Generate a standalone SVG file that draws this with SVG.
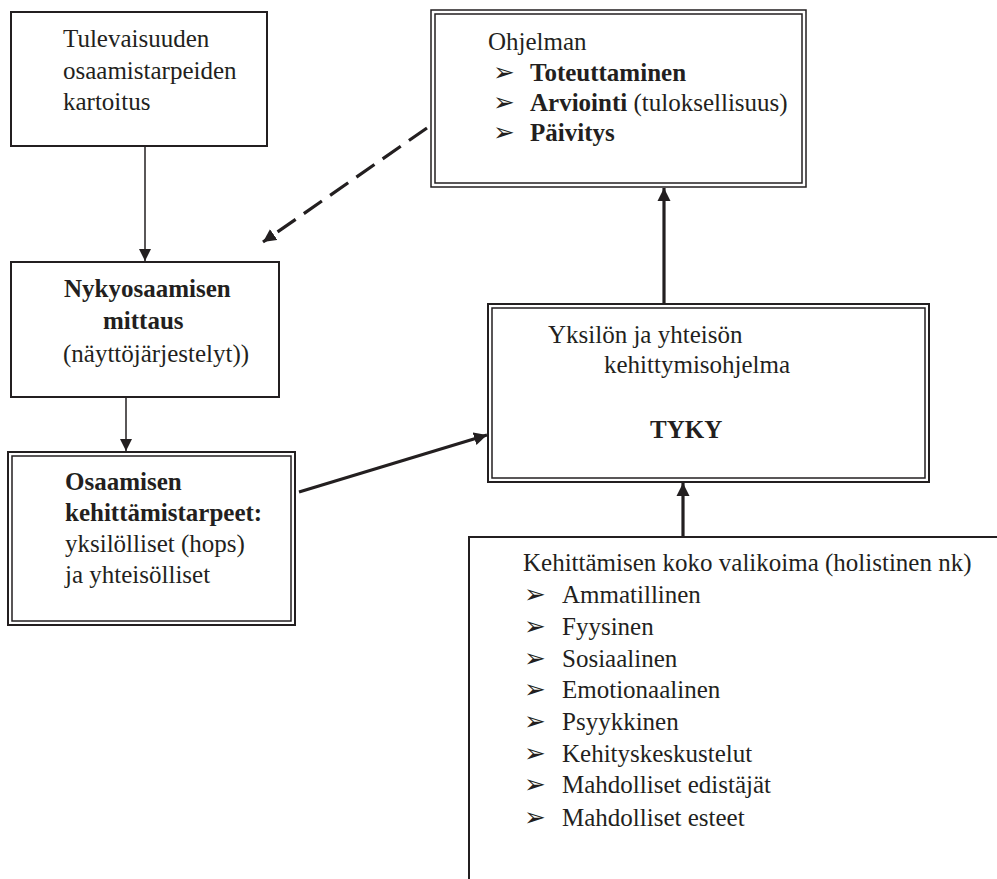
<svg xmlns="http://www.w3.org/2000/svg" width="997" height="879" viewBox="0 0 997 879">
  <style>
    text { font-family: "Liberation Serif", "DejaVu Serif", "Times New Roman", serif; font-size: 25px; fill: #231f20; }
    .b { font-weight: bold; }
    .bul { font-family: "DejaVu Sans", sans-serif; font-size: 26px; }
    .box { fill: #fff; stroke: #231f20; stroke-width: 2; }
    .dbl { fill: none; stroke: #231f20; stroke-width: 1.5; }
    .thin { stroke: #231f20; stroke-width: 1.5; fill: none; }
    .thick { stroke: #231f20; stroke-width: 3.2; fill: none; }
  </style>
  <defs>
    <marker id="ah" markerUnits="userSpaceOnUse" markerWidth="14" markerHeight="14" viewBox="0 0 14 14" refX="13" refY="7" orient="auto">
      <path d="M0,0.5 L13,7 L0,13.5 Z" fill="#231f20"/>
    </marker>
    <marker id="ahs" markerUnits="userSpaceOnUse" markerWidth="13" markerHeight="13" viewBox="0 0 13 13" refX="12" refY="6.5" orient="auto">
      <path d="M0,0.5 L12,6.5 L0,12.5 Z" fill="#231f20"/>
    </marker>
  </defs>

  <g id="connectors">
    <line class="thin" x1="145" y1="146" x2="145" y2="261" marker-end="url(#ahs)"/>
    <line class="thin" x1="126" y1="397" x2="126" y2="451" marker-end="url(#ahs)"/>
    <line class="thick" x1="299" y1="492" x2="487" y2="435" marker-end="url(#ah)"/>
    <line class="thick" x1="664" y1="304" x2="664" y2="188" marker-end="url(#ah)"/>
    <line class="thick" x1="683" y1="537" x2="683" y2="483" marker-end="url(#ah)"/>
    <line class="thick" x1="427" y1="128" x2="263" y2="242" stroke-dasharray="22 10" marker-end="url(#ah)"/>
  </g>

  <g id="node-tulevaisuus">
    <rect class="box" x="11" y="12" width="256" height="134"/>
    <text x="63" y="47">Tulevaisuuden</text>
    <text x="63" y="79">osaamistarpeiden</text>
    <text x="63" y="110">kartoitus</text>
  </g>

  <g id="node-ohjelman">
    <rect class="dbl" x="431" y="10" width="375" height="177" stroke-width="2"/>
    <rect class="dbl" x="435" y="14" width="367" height="169"/>
    <text x="488" y="50">Ohjelman</text>
    <text class="bul" x="493" y="81">➢</text>
    <text class="b" x="530" y="81">Toteuttaminen</text>
    <text class="bul" x="493" y="111">➢</text>
    <text x="530" y="111"><tspan class="b">Arviointi</tspan> (tuloksellisuus)</text>
    <text class="bul" x="493" y="141">➢</text>
    <text class="b" x="530" y="141">Päivitys</text>
  </g>

  <g id="node-nykyosaaminen">
    <rect class="box" x="11" y="262" width="268" height="135"/>
    <text class="b" x="64" y="297">Nykyosaamisen</text>
    <text class="b" x="103" y="329">mittaus</text>
    <text x="63" y="362">(näyttöjärjestelyt))</text>
  </g>

  <g id="node-kehittamistarpeet">
    <rect x="8" y="452" width="287" height="173" fill="#fff" stroke="#231f20" stroke-width="2"/>
    <rect class="dbl" x="12" y="456" width="279" height="165"/>
    <text class="b" x="65" y="490">Osaamisen</text>
    <text class="b" x="65" y="521">kehittämistarpeet:</text>
    <text x="65" y="552">yksilölliset (hops)</text>
    <text x="65" y="583">ja yhteisölliset</text>
  </g>

  <g id="node-tyky">
    <rect x="488" y="304" width="441" height="178" fill="#fff" stroke="#231f20" stroke-width="2"/>
    <rect class="dbl" x="492" y="308" width="433" height="170"/>
    <text x="548" y="343">Yksilön ja yhteisön</text>
    <text x="604" y="373">kehittymisohjelma</text>
    <text class="b" x="650" y="438">TYKY</text>
  </g>

  <g id="node-valikoima">
    <polyline points="469,879 469,537 997,537" fill="none" stroke="#231f20" stroke-width="2"/>
    <text x="523" y="571">Kehittämisen koko valikoima (holistinen nk)</text>
    <text class="bul" x="524" y="603">➢</text>
    <text x="562" y="603">Ammatillinen</text>
    <text class="bul" x="524" y="635">➢</text>
    <text x="562" y="635">Fyysinen</text>
    <text class="bul" x="524" y="667">➢</text>
    <text x="562" y="667">Sosiaalinen</text>
    <text class="bul" x="524" y="698">➢</text>
    <text x="562" y="698">Emotionaalinen</text>
    <text class="bul" x="524" y="730">➢</text>
    <text x="562" y="730">Psyykkinen</text>
    <text class="bul" x="524" y="762">➢</text>
    <text x="562" y="762">Kehityskeskustelut</text>
    <text class="bul" x="524" y="793">➢</text>
    <text x="562" y="793">Mahdolliset edistäjät</text>
    <text class="bul" x="524" y="826">➢</text>
    <text x="562" y="826">Mahdolliset esteet</text>
  </g>
</svg>
